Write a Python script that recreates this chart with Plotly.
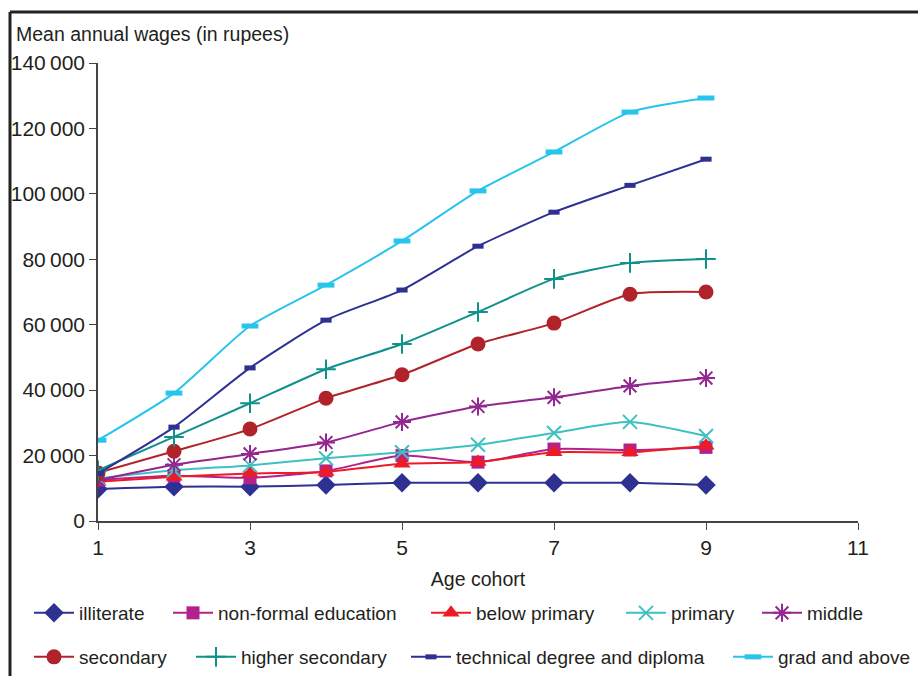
import plotly.graph_objects as go

age_cohort = [1, 2, 3, 4, 5, 6, 7, 8, 9]

illiterate = [9800, 10500, 10500, 11000, 11700, 11700, 11700, 11700, 11000]
non_formal = [12500, 13800, 13200, 15300, 20000, 18000, 22000, 21700, 22500]
below_primary = [12000, 13500, 14500, 15000, 17500, 18000, 21000, 21000, 23000]
primary = [13000, 15500, 17000, 19200, 21000, 23300, 26900, 30300, 26000]
middle = [12500, 17200, 20500, 24000, 30300, 35000, 37800, 41300, 43700]
secondary = [14700, 21300, 28100, 37500, 44700, 54100, 60500, 69300, 70000]
higher_secondary = [15500, 25700, 36000, 46400, 54100, 63900, 74000, 78900, 80100]
technical = [14500, 28700, 46800, 61400, 70600, 84000, 94400, 102600, 110600]
grad = [24700, 39100, 59600, 72100, 85600, 100900, 112800, 125000, 129300]

series_names = ["illiterate", "non-formal education", "below primary", "primary", "middle",
                "secondary", "higher secondary", "technical degree and diploma", "grad and above"]
series_values = [illiterate, non_formal, below_primary, primary, middle,
                 secondary, higher_secondary, technical, grad]

y_tick_vals = [0, 20000, 40000, 60000, 80000, 100000, 120000, 140000]
y_tick_text = ["0", "20\u2009000", "40\u2009000", "60\u2009000", "80\u2009000",
               "100\u2009000", "120\u2009000", "140\u2009000"]
x_tick_vals = [1, 3, 5, 7, 9, 11]

styles = [
    dict(color="#2E3192", symbol="diamond", size=15, lw=0),
    dict(color="#B5218C", symbol="square", size=13, lw=0),
    dict(color="#ED1C24", symbol="triangle-up", size=15, lw=0),
    dict(color="#3FC0C0", symbol="x-thin-open", size=14, lw=2),
    dict(color="#92278F", symbol="asterisk-open", size=15, lw=2),
    dict(color="#B0232A", symbol="circle", size=15, lw=0),
    dict(color="#10908A", symbol="cross-thin-open", size=14, lw=2),
    dict(color="#2E3192", symbol="line-ew-open", size=8, lw=5),
    dict(color="#27C4EC", symbol="line-ew-open", size=12, lw=5),
]

W, H = 918, 676
L, R, T, B = 98, 60, 63, 155
pw, ph = W - L - R, H - T - B

# legend text start positions (pixels) for each entry
legend_text_x = [79, 218, 476, 671, 807, 79, 241, 456, 778]
legend_row_y = [613, 613, 613, 613, 613, 657, 657, 657, 657]

font = "Liberation Sans"

fig = go.Figure()
legends = {}
for i, (name, vals) in enumerate(zip(series_names, series_values)):
    s = styles[i]
    lg = "legend" if i == 0 else "legend%d" % (i + 1)
    fig.add_trace(go.Scatter(
        x=age_cohort, y=vals, name=name, mode="lines+markers",
        line=dict(color=s["color"], width=2, shape="spline", smoothing=0.6),
        marker=dict(symbol=s["symbol"], size=s["size"], color=s["color"],
                    line=dict(color=s["color"], width=s["lw"])),
        legend=lg,
    ))
    legends[lg] = dict(orientation="h", xref="container", yref="container",
                       x=(legend_text_x[i] - 50) / W, y=1 - legend_row_y[i] / H,
                       xanchor="left", yanchor="middle",
                       font=dict(size=19, family=font), bgcolor="rgba(0,0,0,0)",
                       itemwidth=40)


def px_x(p):
    return (p - L) / pw


def px_y(p):
    return (H - B - p) / ph


fig.update_layout(
    width=W, height=H,
    margin=dict(l=L, r=R, t=T, b=B, autoexpand=False),
    paper_bgcolor="white", plot_bgcolor="white",
    font=dict(family=font, size=20, color="#231F20"),
    showlegend=True,
    xaxis=dict(range=[1, 11], tickvals=x_tick_vals, showgrid=False, zeroline=False,
               showline=True, linecolor="#444", linewidth=1.5, ticks="outside", ticklen=7,
               tickcolor="#444", tickfont=dict(size=21), automargin=False,
               title=dict(text="Age cohort", font=dict(size=19.5), standoff=14)),
    yaxis=dict(range=[0, 140000], tickvals=y_tick_vals, ticktext=y_tick_text, showgrid=False,
               zeroline=False, showline=True, linecolor="#444", linewidth=1.5, ticks="outside",
               ticklen=7, tickcolor="#444", tickfont=dict(size=21), automargin=False),
    annotations=[dict(text="Mean annual wages (in rupees)", xref="paper", yref="paper",
                      x=px_x(14), y=px_y(34), xanchor="left", yanchor="middle",
                      showarrow=False, font=dict(size=19.5))],
    shapes=[
        dict(type="line", xref="paper", yref="paper", x0=px_x(10), x1=px_x(918),
             y0=px_y(12), y1=px_y(12), line=dict(color="#222", width=3)),
        dict(type="line", xref="paper", yref="paper", x0=px_x(10), x1=px_x(10),
             y0=px_y(12), y1=px_y(676), line=dict(color="#222", width=3)),
    ],
    **legends,
)

fig.write_html("out.html", post_script="document.body.style.margin='0px';",
               config={"displayModeBar": False})
